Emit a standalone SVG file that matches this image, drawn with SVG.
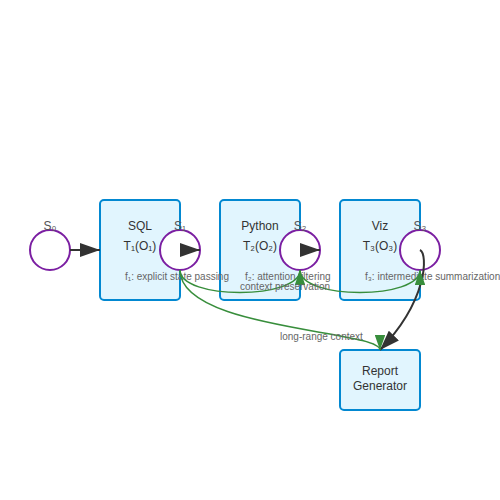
<svg xmlns="http://www.w3.org/2000/svg" width="500" height="500" viewBox="0 0 500 500">
  <defs>
    <style>
      .box { fill: #e1f5fe; stroke: #0288d1; stroke-width: 2; }
      .state { fill: #ffffff; stroke: #7b1fa2; stroke-width: 2; }
      .ntext { font-family: "Liberation Sans", Arial, sans-serif; font-size: 12px; fill: #333333; text-anchor: middle; }
      .stext { font-family: "Liberation Sans", Arial, sans-serif; font-size: 12px; fill: #555555; text-anchor: middle; }
      .ftext { font-family: "Liberation Sans", Arial, sans-serif; font-size: 10px; fill: #666666; }
      .flow { fill: none; stroke: #333333; stroke-width: 2; }
      .ctx { fill: none; stroke: #388e3c; stroke-width: 1.5; }
    </style>
    <marker id="arrowBlack" viewBox="0 0 10 7" markerWidth="10" markerHeight="7" refX="10" refY="3.5" orient="auto" markerUnits="strokeWidth">
      <path d="M0,0 L10,3.5 L0,7 Z" fill="#333333"/>
    </marker>
    <marker id="arrowGreen" viewBox="0 0 10 7" markerWidth="10" markerHeight="7" refX="10" refY="3.5" orient="auto" markerUnits="strokeWidth">
      <path d="M0,0 L10,3.5 L0,7 Z" fill="#388e3c"/>
    </marker>
  </defs>
  <rect width="500" height="500" fill="#ffffff"/>

  <g id="node-sql">
    <rect class="box" x="100" y="200" width="80" height="100" rx="4"/>
    <text class="ntext" x="140" y="230">SQL</text>
    <text class="ntext" x="140" y="250">T₁(O₁)</text>
  </g>
  <g id="node-python">
    <rect class="box" x="220" y="200" width="80" height="100" rx="4"/>
    <text class="ntext" x="260" y="230">Python</text>
    <text class="ntext" x="260" y="250">T₂(O₂)</text>
  </g>
  <g id="node-viz">
    <rect class="box" x="340" y="200" width="80" height="100" rx="4"/>
    <text class="ntext" x="380" y="230">Viz</text>
    <text class="ntext" x="380" y="250">T₃(O₃)</text>
  </g>
  <g id="node-report">
    <rect class="box" x="340" y="350" width="80" height="60" rx="4"/>
    <text class="ntext" x="380" y="375">Report</text>
    <text class="ntext" x="380" y="390">Generator</text>
  </g>

  <g id="state-s0">
    <circle class="state" cx="50" cy="250" r="20"/>
    <text class="stext" x="50" y="230">S₀</text>
  </g>
  <g id="state-s1">
    <circle class="state" cx="180" cy="250" r="20"/>
    <text class="stext" x="180" y="230">S₁</text>
  </g>
  <g id="state-s2">
    <circle class="state" cx="300" cy="250" r="20"/>
    <text class="stext" x="300" y="230">S₂</text>
  </g>
  <g id="state-s3">
    <circle class="state" cx="420" cy="250" r="20"/>
    <text class="stext" x="420" y="230">S₃</text>
  </g>

  <g id="transition-labels">
    <text class="ftext" x="125" y="280">f₁: explicit state passing</text>
    <text class="ftext" x="245" y="280">f₂: attention filtering</text>
    <text class="ftext" x="365" y="280">f₃: intermediate summarization</text>
  </g>

  <g id="connectors">
    <path class="flow" d="M70,250 L100,250" marker-end="url(#arrowBlack)"/>
    <path class="flow" d="M180,250 L200,250" marker-end="url(#arrowBlack)"/>
    <path class="flow" d="M300,250 L320,250" marker-end="url(#arrowBlack)"/>
    <path class="flow" d="M420,250 C428,254 428,300 380,350" marker-end="url(#arrowBlack)"/>
    <path class="ctx" d="M180,270 C180,300 300,300 300,270" marker-end="url(#arrowGreen)"/>
    <path class="ctx" d="M300,270 C300,300 420,300 420,270" marker-end="url(#arrowGreen)"/>
    <path class="ctx" d="M180,270 C180,330 380,330 380,350" marker-end="url(#arrowGreen)"/>
    <text class="ftext" x="240" y="290">context preservation</text>
    <text class="ftext" x="280" y="339.5">long-range context</text>
  </g>
</svg>
